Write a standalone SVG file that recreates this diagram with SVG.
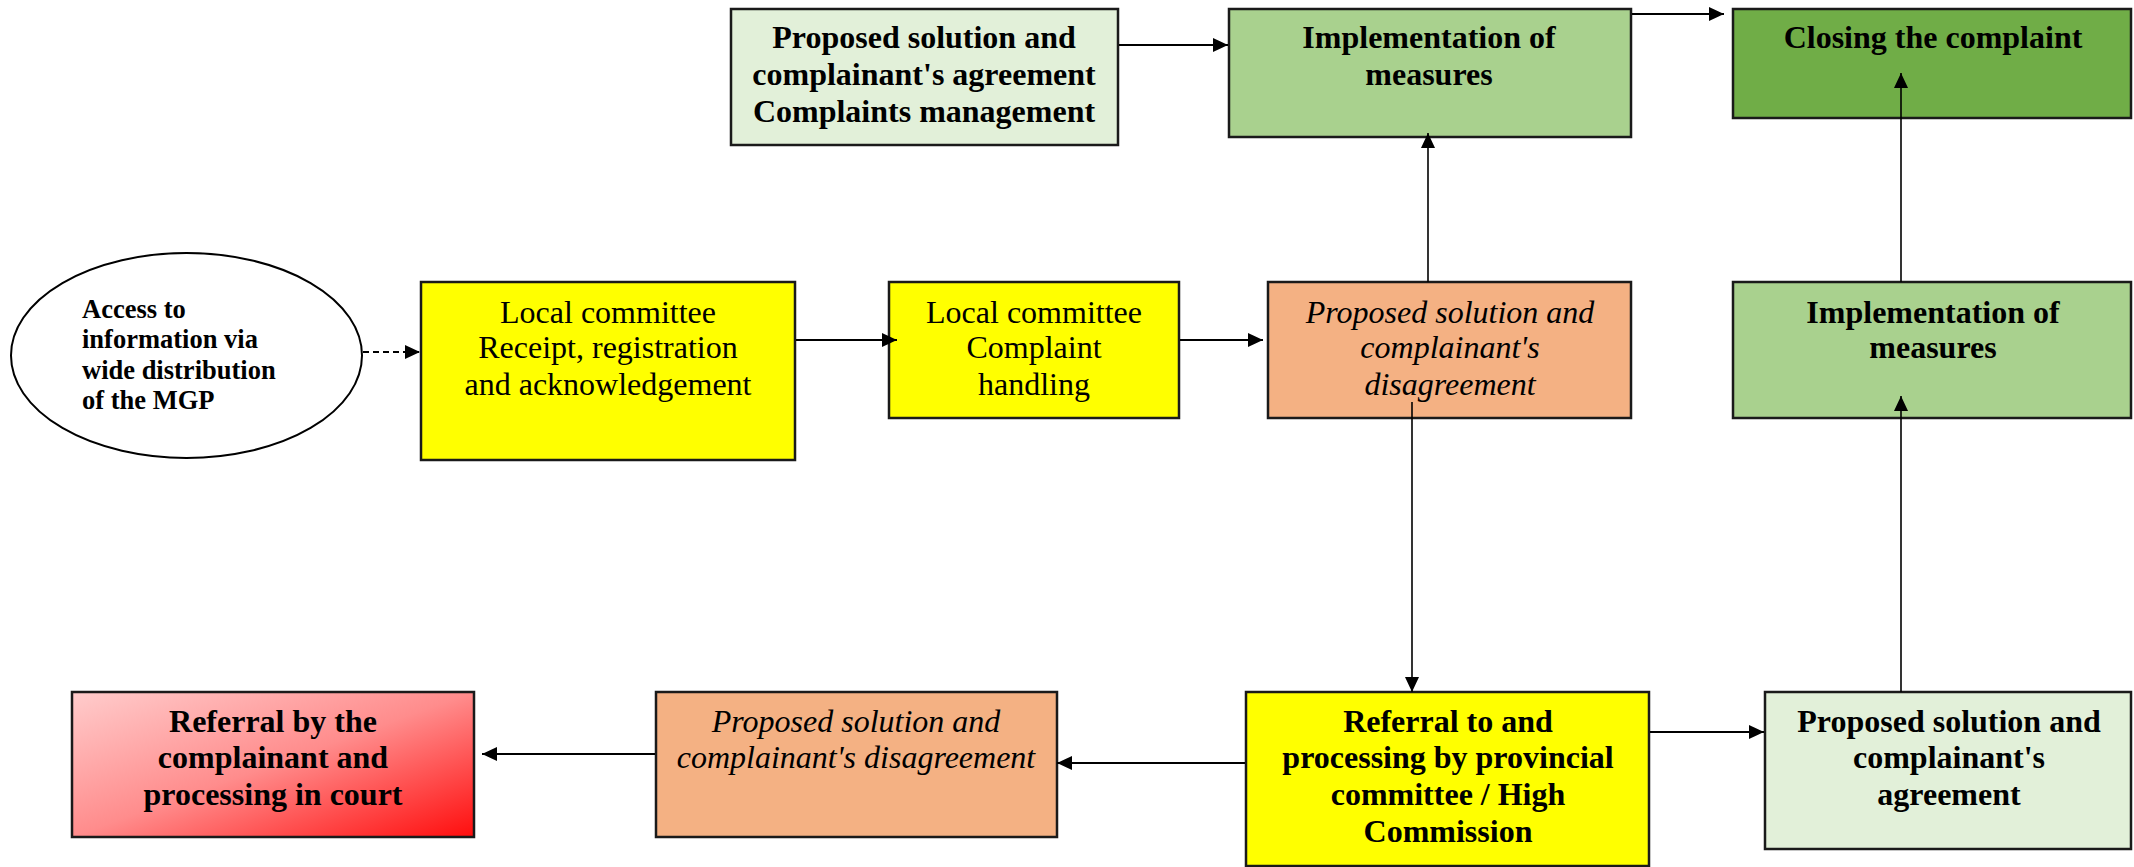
<svg xmlns="http://www.w3.org/2000/svg" width="2134" height="867" viewBox="0 0 2134 867">
<style>
.box{stroke:#1a1a1a;stroke-width:2.5}
.t{font-family:"Liberation Serif","Times New Roman",serif;font-size:32px;fill:#000;text-anchor:middle}
.b{font-weight:bold}
.i{font-style:italic}
.e{font-family:"Liberation Serif","Times New Roman",serif;font-size:26.5px;font-weight:bold;fill:#000}
.c{fill:none;stroke:#000;stroke-width:2.2}
.v{fill:none;stroke:#000;stroke-width:1.6}
</style>
<defs>
<marker id="ah" markerUnits="userSpaceOnUse" markerWidth="16" markerHeight="16" viewBox="0 0 16 16" refX="15" refY="8" orient="auto">
<path d="M0,1 L15,8 L0,15 Z" fill="#000"/>
</marker>
<linearGradient id="red" x1="0" y1="0" x2="1" y2="1">
<stop offset="0" stop-color="#FFCCCC"/>
<stop offset="0.5" stop-color="#FF8C8C"/>
<stop offset="1" stop-color="#FF0D0D"/>
</linearGradient>
</defs>
<rect width="2134" height="867" fill="#fff"/>
<g id="access">
<ellipse cx="186.5" cy="355.5" rx="175.5" ry="102.5" fill="#fff" stroke="#000" stroke-width="2"/>
<text class="e" x="82" y="318">Access to</text>
<text class="e" x="82" y="348">information via</text>
<text class="e" x="82" y="379">wide distribution</text>
<text class="e" x="82" y="409">of the MGP</text>
</g>
<g id="local-receipt">
<rect class="box" x="421" y="282" width="374" height="178" fill="#FFFF00"/>
<text class="t" x="608" y="323">Local committee</text>
<text class="t" x="608" y="358">Receipt, registration</text>
<text class="t" x="608" y="395">and acknowledgement</text>
</g>
<g id="local-handling">
<rect class="box" x="889" y="282" width="290" height="136" fill="#FFFF00"/>
<text class="t" x="1034" y="323">Local committee</text>
<text class="t" x="1034" y="358">Complaint</text>
<text class="t" x="1034" y="395">handling</text>
</g>
<g id="disagreement-1">
<rect class="box" x="1268" y="282" width="363" height="136" fill="#F4B183"/>
<text class="t i" x="1450" y="323">Proposed solution and</text>
<text class="t i" x="1450" y="358">complainant's</text>
<text class="t i" x="1450" y="395">disagreement</text>
</g>
<g id="agreement-1">
<rect class="box" x="731" y="9" width="387" height="136" fill="#E2F0D9"/>
<text class="t b" x="924" y="48">Proposed solution and</text>
<text class="t b" x="924" y="85">complainant's agreement</text>
<text class="t b" x="924" y="122">Complaints management</text>
</g>
<g id="implementation-1">
<rect class="box" x="1229" y="9" width="402" height="128" fill="#A9D18E"/>
<text class="t b" x="1429" y="48">Implementation of</text>
<text class="t b" x="1429" y="85">measures</text>
</g>
<g id="closing">
<rect class="box" x="1733" y="9" width="398" height="109" fill="#70AD47"/>
<text class="t b" x="1933" y="48">Closing the complaint</text>
</g>
<g id="implementation-2">
<rect class="box" x="1733" y="282" width="398" height="136" fill="#A9D18E"/>
<text class="t b" x="1933" y="323">Implementation of</text>
<text class="t b" x="1933" y="358">measures</text>
</g>
<g id="provincial">
<rect class="box" x="1246" y="692" width="403" height="174" fill="#FFFF00"/>
<text class="t b" x="1448" y="732">Referral to and</text>
<text class="t b" x="1448" y="768">processing by provincial</text>
<text class="t b" x="1448" y="805">committee / High</text>
<text class="t b" x="1448" y="842">Commission</text>
</g>
<g id="agreement-2">
<rect class="box" x="1765" y="692" width="366" height="157" fill="#E2F0D9"/>
<text class="t b" x="1949" y="732">Proposed solution and</text>
<text class="t b" x="1949" y="768">complainant's</text>
<text class="t b" x="1949" y="805">agreement</text>
</g>
<g id="disagreement-2">
<rect class="box" x="656" y="692" width="401" height="145" fill="#F4B183"/>
<text class="t i" x="856" y="732">Proposed solution and</text>
<text class="t i" x="856" y="768">complainant's disagreement</text>
</g>
<g id="court">
<rect class="box" x="72" y="692" width="402" height="145" fill="url(#red)"/>
<text class="t b" x="273" y="732">Referral by the</text>
<text class="t b" x="273" y="768">complainant and</text>
<text class="t b" x="273" y="805">processing in court</text>
</g>
<g id="connectors">
<line x1="363" y1="352" x2="420" y2="352" class="c" stroke-dasharray="6,4" marker-end="url(#ah)"/>
<line x1="796" y1="340" x2="897" y2="340" class="c" marker-end="url(#ah)"/>
<line x1="1180" y1="340" x2="1263" y2="340" class="c" marker-end="url(#ah)"/>
<line x1="1119" y1="45" x2="1228" y2="45" class="c" marker-end="url(#ah)"/>
<line x1="1632" y1="14" x2="1724" y2="14" class="c" marker-end="url(#ah)"/>
<line x1="1428" y1="282" x2="1428" y2="133" class="v" marker-end="url(#ah)"/>
<line x1="1412" y1="402" x2="1412" y2="692" class="v" marker-end="url(#ah)"/>
<line x1="1901" y1="282" x2="1901" y2="73" class="v" marker-end="url(#ah)"/>
<line x1="1901" y1="692" x2="1901" y2="396" class="v" marker-end="url(#ah)"/>
<line x1="1650" y1="732" x2="1764" y2="732" class="c" marker-end="url(#ah)"/>
<line x1="1245" y1="763" x2="1057" y2="763" class="c" marker-end="url(#ah)"/>
<line x1="655" y1="754" x2="482" y2="754" class="c" marker-end="url(#ah)"/>
</g>
</svg>
